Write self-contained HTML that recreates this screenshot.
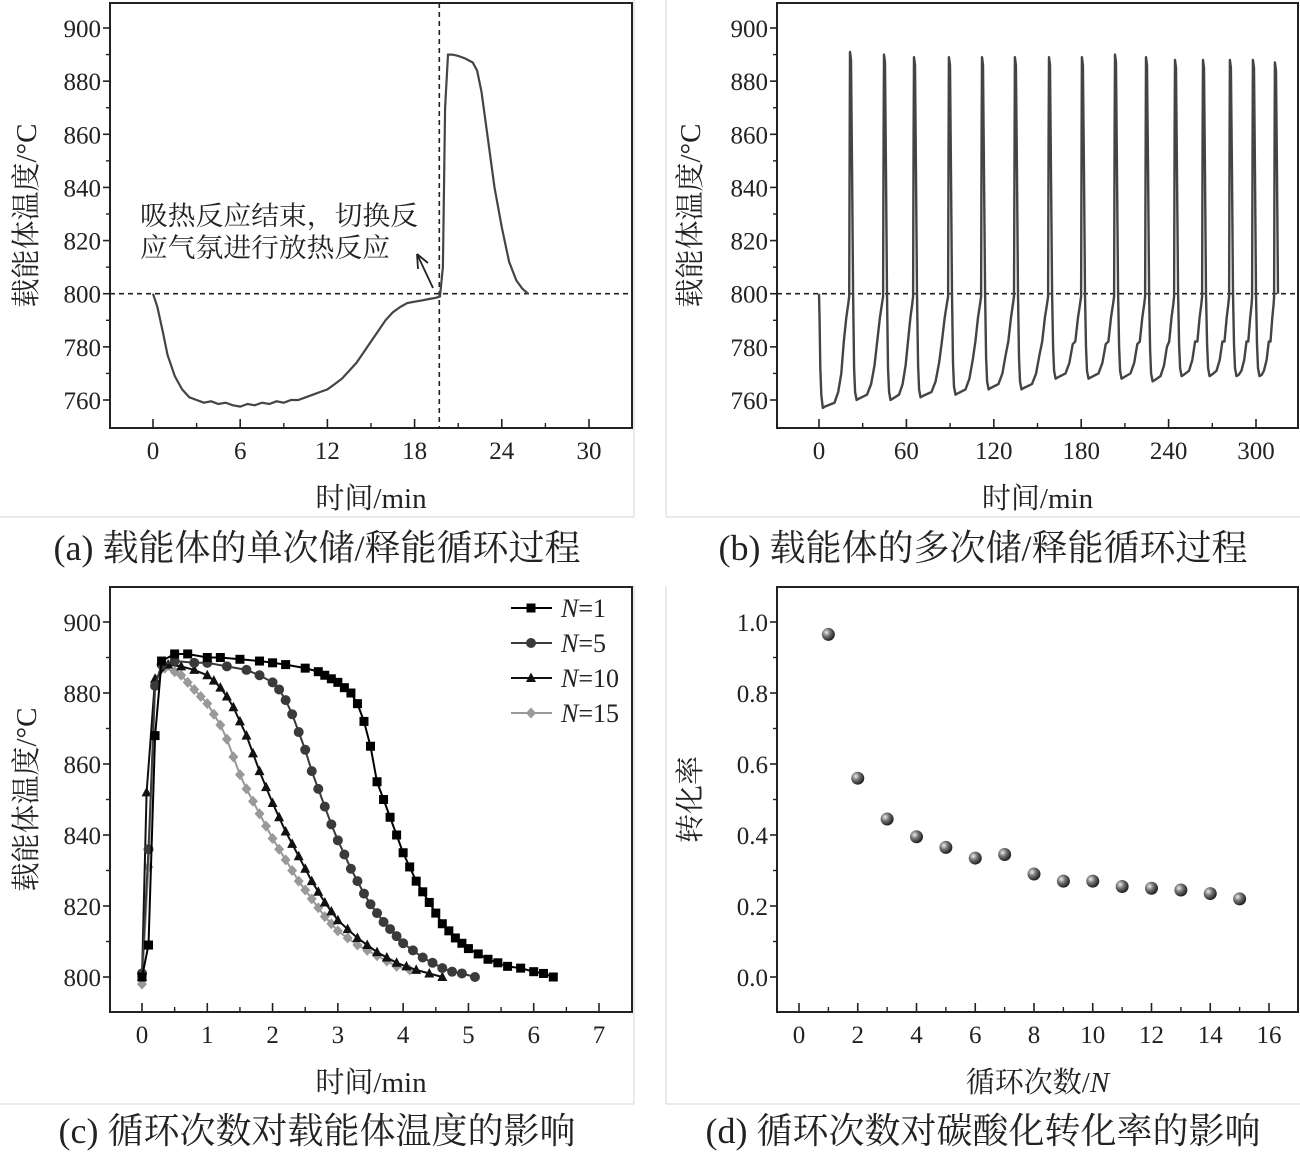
<!DOCTYPE html>
<html><head><meta charset="utf-8">
<style>
html,body{margin:0;padding:0;background:#fff;}
svg{display:block;}
text{font-family:"Liberation Serif","Noto Serif CJK SC","Noto Sans CJK SC",serif;fill:#222;}
</style></head>
<body>
<svg id="fig" width="1300" height="1172" viewBox="0 0 1300 1172" xmlns="http://www.w3.org/2000/svg">
<defs>
<radialGradient id="ball" cx="35%" cy="35%" r="65%">
<stop offset="0" stop-color="#eee"/><stop offset="0.45" stop-color="#777"/><stop offset="1" stop-color="#222"/>
</radialGradient>
</defs>
<g id="frames" fill="none" stroke="#ddd" stroke-width="1.2">
<line x1="634" y1="0" x2="634" y2="517"/><line x1="0" y1="517" x2="634" y2="517"/>
<line x1="666" y1="0" x2="666" y2="517"/><line x1="666" y1="517" x2="1300" y2="517"/>
<line x1="634" y1="586" x2="634" y2="1104"/><line x1="0" y1="1104" x2="634" y2="1104"/>
<line x1="666" y1="586" x2="666" y2="1104"/><line x1="666" y1="1104" x2="1300" y2="1104"/>
</g>
<text x="317" y="560" font-size="36" text-anchor="middle">(a) 载能体的单次储/释能循环过程</text>
<text x="983" y="560" font-size="36" text-anchor="middle">(b) 载能体的多次储/释能循环过程</text>
<text x="317" y="1143" font-size="36" text-anchor="middle">(c) 循环次数对载能体温度的影响</text>
<text x="983" y="1143" font-size="36" text-anchor="middle">(d) 循环次数对碳酸化转化率的影响</text>
</svg>
<script>
// ---- Panel (a) data ----
const aTime = [0,0.3,0.7,1,1.5,2,2.5,3,3.5,4,4.5,5,5.5,6,6.5,7,7.5,8,8.5,9,9.5,10,10.5,11,11.5,12,12.5,13,13.5,14,14.5,15,15.5,16,16.5,17,17.5,18,18.5,19,19.5,19.75,19.95,20.1,20.3,20.6,21,21.5,22,22.3,22.6,23,23.5,24,24.5,25,25.4,25.8];
const aTemp = [800,795,785,777,769,764,761,760,759,759.5,758.5,759,758,757.5,758.5,758,759,758.5,759.5,759,760,760,761,762,763,764,766,768,771,774,778,782,786,790,793,795,796.5,797,797.5,798,798.5,799,810,870,890,890,889.5,888.5,887,884,876,860,840,825,812,805,802,800];
const aXTicks = [0,6,12,18,24,30];
const aYTicks = [760,780,800,820,840,860,880,900];
// ---- Panel (b) data ----
const bPeakTime = [21.3,44.6,65.2,89.2,111.9,134.5,157.9,180.5,203.2,224.5,244.4,263.6,282.1,297.9,313];
const bPeakTemp = [891,890,889,889,889,889,889,889,890,889,888,888,888,888,887];
const bMinTemp = [757,760,760,761,762,764,764,768,768,768,767,769,769,769,769];
const bXTicks = [0,60,120,180,240,300];
// ---- Panel (c) data ----
const c1T = [0,0.1,0.2,0.3,0.5,0.7,1,1.2,1.5,1.8,2,2.2,2.5,2.7,2.8,2.9,3,3.1,3.2,3.3,3.4,3.5,3.6,3.7,3.8,3.9,4,4.1,4.2,4.3,4.4,4.5,4.6,4.7,4.8,4.9,5,5.15,5.3,5.45,5.6,5.8,6,6.15,6.3];
const c1V = [800,809,868,889,891,891,890,890,889.5,889,888.5,888,887,886,885,884,883,881.5,880,877,872,865,855,850,845,840,835,831,827,824,821,818,815,813,811,809.5,808,806.5,805,804,803,802.5,801.5,801,800];
const c5T = [0,0.1,0.2,0.3,0.5,0.8,1,1.3,1.6,1.8,2,2.1,2.2,2.3,2.4,2.5,2.6,2.7,2.8,2.9,3,3.1,3.2,3.3,3.4,3.5,3.6,3.7,3.8,3.9,4,4.15,4.3,4.45,4.6,4.75,4.9,5.1];
const c5V = [801,836,882,888,889,888.5,888.5,887.5,886.5,885,883,881,878,874,869,864,858,853,848,843,838.5,834.5,830.5,827,823.5,820.5,818,815.5,813.5,811.5,809.5,807.5,805.5,804,802.5,801.5,801,800];
const c10T = [0,0.07,0.2,0.4,0.6,0.8,1,1.1,1.2,1.3,1.4,1.5,1.6,1.7,1.8,1.9,2,2.1,2.2,2.3,2.4,2.5,2.6,2.7,2.8,2.9,3,3.15,3.3,3.45,3.6,3.75,3.9,4.05,4.2,4.4,4.6];
const c10V = [800,852,884,888,887.5,886.5,885,883.5,881.5,879,876,872,868,863,858,853.5,849,845,841,837.5,834,830.5,827,824,821,818.5,816,813.5,811,809,807,805.5,804,803,802,801,800];
const c15T = [0,0.1,0.2,0.35,0.5,0.6,0.7,0.8,0.9,1,1.1,1.2,1.3,1.4,1.5,1.6,1.7,1.8,1.9,2,2.1,2.2,2.3,2.4,2.5,2.6,2.7,2.8,2.9,3,3.15,3.3,3.45,3.6,3.75,3.9,4.1];
const c15V = [798,831,883,887,886,885,883,881,879,877,874,871,867,862,857,853,849.5,846,842.5,839,836,833,830,827,824.5,822,819.5,817,815,813,811,809,807.5,806,804.5,803,802];
const cXTicks = [0,1,2,3,4,5,6,7];
const cYTicks = [800,820,840,860,880,900];
// ---- Panel (d) data ----
const dCycle = [1,2,3,4,5,6,7,8,9,10,11,12,13,14,15];
const dRate = [0.965,0.56,0.445,0.395,0.365,0.335,0.345,0.29,0.27,0.27,0.255,0.25,0.245,0.235,0.22];
const dXTicks = [0,2,4,6,8,10,12,14,16];
const dYTicks = [0.0,0.2,0.4,0.6,0.8,1.0];

const NS='http://www.w3.org/2000/svg';
const svg=document.getElementById('fig');
function mk(tag,attrs,parent){const e=document.createElementNS(NS,tag);for(const k in attrs)e.setAttribute(k,attrs[k]);(parent||svg).appendChild(e);return e;}
function lin(d0,d1,p0,p1){return v=>p0+(v-d0)*(p1-p0)/(d1-d0);}

function axes(cfg){
  const g=mk('g',{});
  
  
  const b=mk('rect',{x:cfg.L,y:cfg.T,width:cfg.R-cfg.L,height:cfg.B-cfg.T,fill:'none',stroke:'#222','stroke-width':2},g);
  
  
  cfg.xt.forEach((v,i)=>{
    const x=cfg.sx(v);
    mk('line',{x1:x,y1:cfg.B,x2:x,y2:cfg.B-9,stroke:'#222','stroke-width':1.6},g);
    if(i<cfg.xt.length-1){const xm=cfg.sx((v+cfg.xt[i+1])/2);mk('line',{x1:xm,y1:cfg.B,x2:xm,y2:cfg.B-5,stroke:'#222','stroke-width':1.4},g);}
    const t=mk('text',{x:x,y:cfg.B+31,'font-size':25,'text-anchor':'middle'},g);
    t.textContent=cfg.xf?cfg.xf(v):v;
    
    
  });
  cfg.yt.forEach((v,i)=>{
    const y=cfg.sy(v);
    mk('line',{x1:cfg.L,y1:y,x2:cfg.L-7,y2:y,stroke:'#222','stroke-width':1.6},g);
    if(i<cfg.yt.length-1){const ym=cfg.sy((v+cfg.yt[i+1])/2);mk('line',{x1:cfg.L,y1:ym,x2:cfg.L-4,y2:ym,stroke:'#222','stroke-width':1.4},g);}
    const t=mk('text',{x:cfg.L-9,y:y+9,'font-size':25,'text-anchor':'end'},g);
    t.textContent=cfg.yf?cfg.yf(v):v;
    
    
  });
  const xt=mk('text',{x:(cfg.L+cfg.R)/2,y:cfg.B+80,'font-size':29,'text-anchor':'middle'},g);
  xt.innerHTML=cfg.xtitle;
  
  
  const yt=mk('text',{x:0,y:0,'font-size':29,'text-anchor':'middle',transform:`translate(${cfg.ytx},${(cfg.T+cfg.B)/2}) rotate(-90)`},g);
  yt.textContent=cfg.ytitle;
  
  
}
function pathD(xs,ys,sx,sy){return xs.map((v,i)=>(i?'L':'M')+sx(v).toFixed(1)+','+sy(ys[i]).toFixed(1)).join(' ');}

// Panel a
{
  const L=110,R=632,T=3,B=428;
  const sx=lin(0,30,153,589), sy=lin(760,900,400,28);
  axes({name:'panel-a',L,R,T,B,sx,sy,xt:aXTicks,yt:aYTicks,xtitle:'时间/min',ytitle:'载能体温度/°C',ytx:36});
  const h=mk('line',{x1:L,y1:sy(800),x2:R,y2:sy(800),stroke:'#222','stroke-width':1.6,'stroke-dasharray':'5,4'});
  
  
  const v=mk('line',{x1:sx(19.7),y1:T,x2:sx(19.7),y2:B,stroke:'#222','stroke-width':1.6,'stroke-dasharray':'5,4'});
  
  
  const p=mk('path',{d:pathD(aTime,aTemp,sx,sy),fill:'none',stroke:'#444','stroke-width':2.2});
  
  
  const ar=mk('path',{d:'M433,288 L417,254 M417,254 L418,269 M417,254 L428,263',fill:'none',stroke:'#222','stroke-width':1.8});
  
  
  const t1=mk('text',{x:140,y:225,'font-size':26.5,textLength:278,lengthAdjust:'spacingAndGlyphs'});
  t1.textContent='吸热反应结束，切换反';
  
  
  const t2=mk('text',{x:140,y:257,'font-size':26.5,textLength:250,lengthAdjust:'spacingAndGlyphs'});
  t2.textContent='应气氛进行放热反应';
  
  
}
// Panel b
{
  const L=777,R=1298,T=3,B=428;
  const sx=lin(0,300,819,1256), sy=lin(760,900,400,28);
  axes({name:'panel-b',L,R,T,B,sx,sy,xt:bXTicks,yt:aYTicks,xtitle:'时间/min',ytitle:'载能体温度/°C',ytx:700});
  const h=mk('line',{x1:L,y1:sy(800),x2:R,y2:sy(800),stroke:'#222','stroke-width':1.6,'stroke-dasharray':'5,4'});
  
  
  let xs=[0,0.4,0.9,1.6,2.6,4], ys=[800,790,772,762,bMinTemp[0],bMinTemp[0]+0.5];
  bPeakTime.forEach((tp,i)=>{
    const mn=bMinTemp[i], pk=bPeakTemp[i];
    const prev = i===0?0:bPeakTime[i-1];
    const g=tp-prev;
    if(i>0){
      xs.push(prev+0.7,prev+1.4,prev+2.1,prev+2.8,prev+3.5,prev+4.5,prev+6);
      ys.push(bPeakTemp[i-1]-3,845,800,mn+12,mn+3,mn,mn+0.5);
    }
    xs.push(tp-0.5*g,tp-0.38*g,tp-0.28*g,tp-0.2*g,tp-0.12*g,tp-0.06*g,tp-0.6,tp-0.25,tp);
    ys.push(mn+2,mn+6,mn+13,782,791,796,799,860,pk);
  });
  const lastT=bPeakTime[bPeakTime.length-1], lastP=bPeakTemp[bPeakTemp.length-1];
  xs.push(lastT+0.7,lastT+1.4,lastT+2.1); ys.push(lastP-3,845,800);
  const p=mk('path',{d:pathD(xs,ys,sx,sy),fill:'none',stroke:'#444','stroke-width':2.4,'stroke-linejoin':'round'});
  
  
}
// Panel c
{
  const L=110,R=632,T=587,B=1012;
  const sx=lin(0,7,142,599), sy=lin(800,900,977,622);
  axes({name:'panel-c',L,R,T,B,sx,sy,xt:cXTicks,yt:cYTicks,xtitle:'时间/min',ytitle:'载能体温度/°C',ytx:36});
  const series=[
    {t:c1T,v:c1V,c:'#000',m:'sq',n:'1'},
    {t:c5T,v:c5V,c:'#3a3a3a',m:'ci',n:'5'},
    {t:c10T,v:c10V,c:'#111',m:'tr',n:'10'},
    {t:c15T,v:c15V,c:'#999',m:'di',n:'15'}];
  function marker(m,x,y,c,g){
    if(m==='sq')return mk('rect',{x:x-4.5,y:y-4.5,width:9,height:9,fill:c},g);
    if(m==='ci')return mk('circle',{cx:x,cy:y,r:5,fill:c},g);
    if(m==='tr')return mk('path',{d:`M${x},${y-5.5}L${x+5},${y+4}L${x-5},${y+4}Z`,fill:c},g);
    return mk('path',{d:`M${x},${y-5.5}L${x+5},${y}L${x},${y+5.5}L${x-5},${y}Z`,fill:c},g);
  }
  [...series].reverse().forEach(s=>{
    const g=mk('g',{});
    
    
    mk('path',{d:pathD(s.t,s.v,sx,sy),fill:'none',stroke:s.c,'stroke-width':2},g);
    s.t.forEach((t,i)=>{const mm=marker(s.m,sx(t),sy(s.v[i]),s.c,g);
      
      });
  });
  series.forEach((s,i)=>{
    const y=608+i*35;
    const g=mk('g',{});
    
    
    mk('line',{x1:511,y1:y,x2:552,y2:y,stroke:s.c,'stroke-width':2},g);
    marker(s.m,531,y,s.c,g);
    const t=mk('text',{x:561,y:y+9,'font-size':26},g);
    t.innerHTML='<tspan font-style="italic">N</tspan>='+s.n;
  });
}
// Panel d
{
  const L=777,R=1298,T=587,B=1012;
  const sx=lin(0,16,799,1269), sy=lin(0,1,977,622);
  axes({name:'panel-d',L,R,T,B,sx,sy,xt:dXTicks,yt:dYTicks,yf:v=>v.toFixed(1),xtitle:'循环次数/<tspan font-style="italic">N</tspan>',ytitle:'转化率',ytx:700});
  dCycle.forEach((n,i)=>{
    const c=mk('circle',{cx:sx(n),cy:sy(dRate[i]),r:6.5,fill:'url(#ball)'});
    
    
  });
}
</script>
</body></html>
